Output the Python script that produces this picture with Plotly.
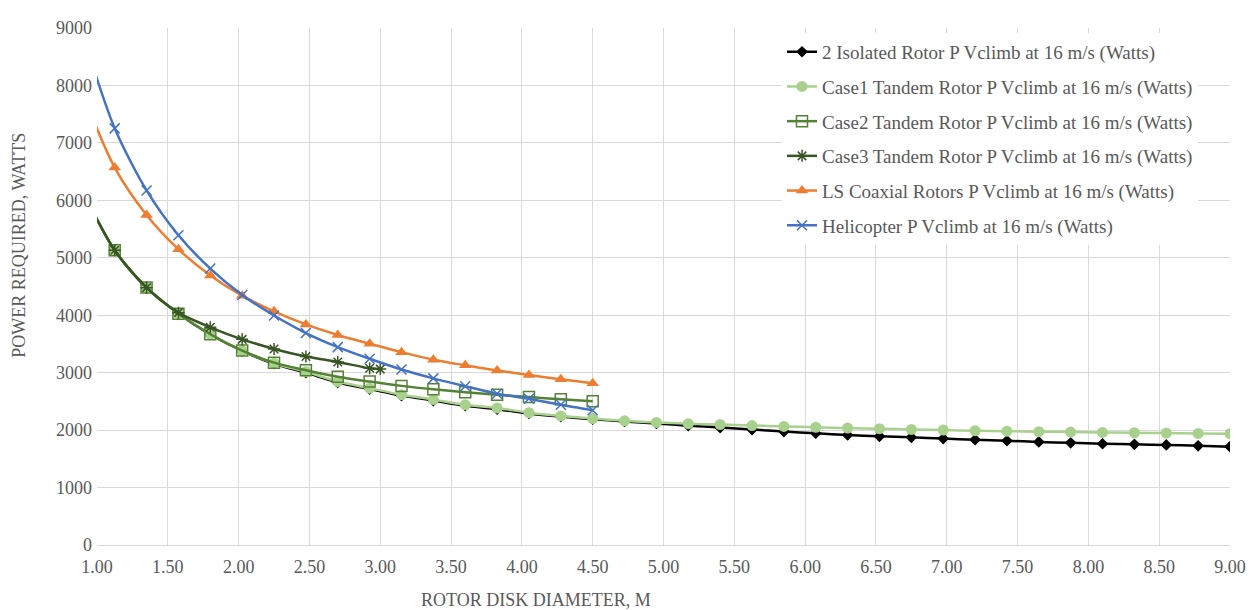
import plotly.graph_objects as go

diameter = [0.900, 1.125, 1.350, 1.575, 1.800, 2.025, 2.250, 2.475, 2.700, 2.925,
            3.150, 3.375, 3.600, 3.825, 4.050, 4.275, 4.500, 4.725, 4.950, 5.175,
            5.400, 5.625, 5.850, 6.075, 6.300, 6.525, 6.750, 6.975, 7.200, 7.425,
            7.650, 7.875, 8.100, 8.325, 8.550, 8.775, 9.000]

isolated_p = [6150, 5130, 4480, 4030, 3665, 3380, 3155, 3000, 2830, 2715,
              2600, 2515, 2425, 2365, 2290, 2235, 2190, 2150, 2115, 2078,
              2045, 2010, 1975, 1945, 1915, 1892, 1875, 1852, 1833, 1815,
              1795, 1778, 1763, 1752, 1742, 1727, 1712]

case1_p = [6150, 5130, 4480, 4030, 3670, 3385, 3165, 3015, 2845, 2730,
           2616, 2531, 2440, 2385, 2304, 2247, 2201, 2162, 2134, 2112,
           2096, 2080, 2064, 2050, 2036, 2024, 2012, 2000, 1990, 1981,
           1973, 1966, 1960, 1954, 1948, 1943, 1938]

case2_p = [6150, 5130, 4483, 4027, 3669, 3384, 3174, 3043, 2930, 2845,
           2770, 2710, 2660, 2615, 2575, 2538, 2503]

case3_diameter = [0.900, 1.125, 1.350, 1.575, 1.800, 2.025, 2.250, 2.475, 2.700, 2.925, 3.000]
case3_p = [6150, 5130, 4480, 4045, 3790, 3580, 3413, 3282, 3186, 3078, 3062]

coaxial_p = [7850, 6570, 5746, 5148, 4693, 4341, 4068, 3840, 3657, 3505,
             3357, 3225, 3128, 3038, 2958, 2884, 2816]

heli_p = [8880, 7253, 6172, 5392, 4812, 4352, 3995, 3690, 3445, 3242,
          3055, 2901, 2765, 2634, 2545, 2440, 2345]

x_ticks = [1.0, 1.5, 2.0, 2.5, 3.0, 3.5, 4.0, 4.5, 5.0, 5.5, 6.0, 6.5, 7.0, 7.5, 8.0, 8.5, 9.0]
y_ticks = [0, 1000, 2000, 3000, 4000, 5000, 6000, 7000, 8000, 9000]

FONT = "Liberation Serif"
TXT = "#595959"

series = [
    ("2 Isolated Rotor P Vclimb at 16 m/s (Watts)", diameter, isolated_p, "#000000", "diamond", 9, None),
    ("Case1 Tandem Rotor P Vclimb at 16 m/s (Watts)", diameter, case1_p, "#a9d18e", "circle", 11, None),
    ("Case2 Tandem Rotor P Vclimb at 16 m/s (Watts)", diameter[:17], case2_p, "#548235", "square-open", 11, 1.5),
    ("Case3 Tandem Rotor P Vclimb at 16 m/s (Watts)", case3_diameter, case3_p, "#375623", "asterisk-open", 10, 1.5),
    ("LS Coaxial Rotors P Vclimb at 16 m/s (Watts)", diameter[:17], coaxial_p, "#ed7d31", "triangle-up", 11, None),
    ("Helicopter P Vclimb at 16 m/s (Watts)", diameter[:17], heli_p, "#4472c4", "x-thin-open", 10, 1.5),
]

fig = go.Figure()
for i, (name, xs, ys, col, sym, sz, mlw) in enumerate(series):
    marker = dict(symbol=sym, size=sz, color=col)
    if mlw:
        marker["line"] = dict(color=col, width=mlw)
    fig.add_trace(go.Scatter(
        x=xs, y=ys, name=name, mode="lines+markers",
        line=dict(color=col, width=2.5, shape="spline", smoothing=0.8),
        marker=marker, legendgroup=f"g{i}",
    ))

# page has an 8px body margin, so the figure is sized/offset to compensate
W, H = 1250, 602
L, R, T, B = 89, 28, 10, 65
PW, PH = W - L - R, H - T - B


def px_x(page_x):
    return (page_x - 8 - L) / PW


def px_y(page_y):
    return 1 - (page_y - 8 - T) / PH


fig.update_layout(
    width=W, height=H,
    paper_bgcolor="white", plot_bgcolor="white",
    margin=dict(l=L, r=R, t=T, b=B),
    font=dict(family=FONT, size=18, color=TXT),
    showlegend=True,
    legend=dict(
        x=px_x(782), y=px_y(23), xanchor="left", yanchor="top",
        bgcolor="white", font=dict(family=FONT, size=19, color=TXT),
        tracegroupgap=7, itemwidth=30,
    ),
    xaxis=dict(
        range=[1.0, 9.0], tickvals=x_ticks, tickformat=".2f",
        showgrid=True, gridcolor="#d9d9d9", gridwidth=1,
        showline=True, linecolor="#d9d9d9", zeroline=False,
        ticks="", ticklabelstandoff=5,
        tickfont=dict(family=FONT, size=18, color=TXT),
    ),
    yaxis=dict(
        range=[0, 9000], tickvals=y_ticks, tickformat="d",
        showgrid=True, gridcolor="#d9d9d9", gridwidth=1,
        showline=False, zeroline=False,
        ticks="", ticklabelstandoff=4,
        tickfont=dict(family=FONT, size=18, color=TXT),
    ),
    annotations=[
        dict(text="ROTOR DISK DIAMETER, M", xref="paper", yref="paper",
             x=px_x(536), y=px_y(601), xanchor="center", yanchor="middle",
             showarrow=False, font=dict(family=FONT, size=18, color=TXT)),
        dict(text="POWER REQUIRED, WATTS", xref="paper", yref="paper",
             x=px_x(19), y=px_y(240), xanchor="center", yanchor="middle",
             textangle=-90, showarrow=False, font=dict(family=FONT, size=18, color=TXT)),
    ],
)

fig.write_html("out.html")
